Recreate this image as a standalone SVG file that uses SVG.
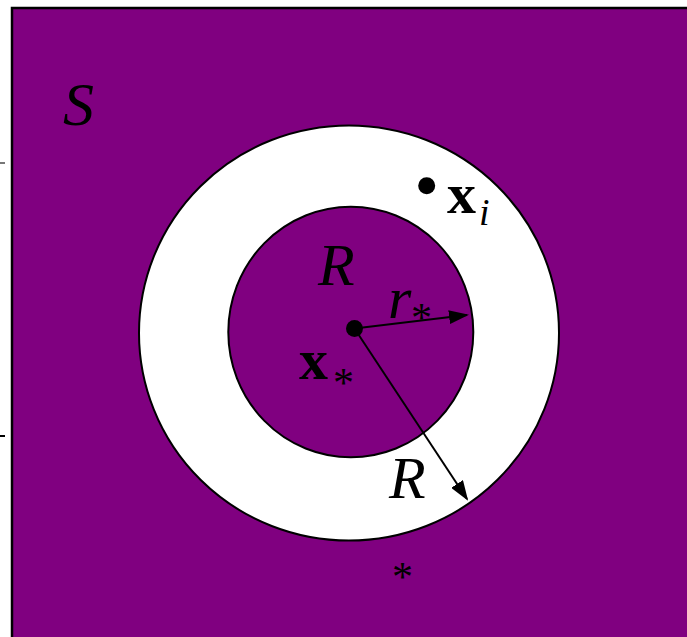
<svg xmlns="http://www.w3.org/2000/svg" width="687" height="637" viewBox="0 0 687 637">
<style>
.it{font-family:"Liberation Serif",serif;font-style:italic;fill:#000}
.bd{font-family:"Liberation Serif",serif;font-weight:bold;fill:#000}
.rm{font-family:"Liberation Serif",serif;fill:#000}
.edge{stroke:#000;stroke-width:2;fill:none}
</style>
<defs>
<marker id="ah" markerUnits="userSpaceOnUse" markerWidth="20" markerHeight="14" refX="18" refY="7" orient="auto">
<path d="M0,0 L20,7 L0,14 Z" fill="#000"/>
</marker>
</defs>
<rect width="687" height="637" fill="#fff"/>
<g id="ticks">
<line x1="0" y1="163" x2="5" y2="163" stroke="#777" stroke-width="2"/>
<line x1="0" y1="436" x2="5" y2="436" stroke="#000" stroke-width="2"/>
</g>
<g id="S">
<rect x="12" y="8" width="690" height="650" fill="#800080" stroke="#000" stroke-width="2.5"/>
<text class="it" x="63" y="125" font-size="62">S</text>
</g>
<g id="ring">
<ellipse cx="349" cy="333" rx="210" ry="207.6" fill="#fff" stroke="#000" stroke-width="2"/>
</g>
<g id="Rinner">
<ellipse cx="350.8" cy="332" rx="122.5" ry="125.3" fill="#800080" stroke="#000" stroke-width="2"/>
<text class="it" x="318" y="285" font-size="60">R</text>
</g>
<g id="connectors">
<line class="edge" x1="354.5" y1="328.5" x2="467" y2="315" marker-end="url(#ah)"/>
<line class="edge" x1="354.5" y1="328.5" x2="467" y2="499" marker-end="url(#ah)"/>
</g>
<g id="xstar">
<circle cx="354.5" cy="328.5" r="8.5" fill="#000"/>
<text class="bd" x="299" y="379" font-size="58">x</text>
<text class="rm" x="333" y="397" font-size="42">*</text>
</g>
<g id="rstar">
<text class="it" x="388" y="318" font-size="60">r</text>
<text class="rm" x="411" y="332" font-size="42">*</text>
</g>
<g id="xi">
<circle cx="426.7" cy="185.7" r="8.5" fill="#000"/>
<text class="bd" x="447" y="213" font-size="58">x</text>
<text class="it" x="479" y="225" font-size="38">i</text>
</g>
<g id="Router">
<text class="it" x="389" y="498" font-size="60">R</text>
</g>
<g id="star">
<text class="rm" x="392" y="591" font-size="42">*</text>
</g>
</svg>
